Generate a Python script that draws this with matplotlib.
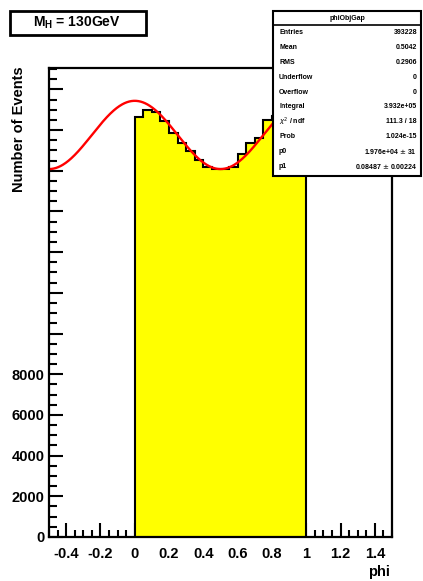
import numpy as np
import matplotlib
matplotlib.use("Agg")
import matplotlib.pyplot as plt
from matplotlib.patches import Rectangle
from matplotlib.ticker import MultipleLocator, FixedLocator, FuncFormatter

# Histogram contents: 20 bins of width 0.05 over [0, 1]
bin_edges = np.linspace(0.0, 1.0, 21)
counts = [20620, 20980, 20870, 20450, 19850, 19350, 18950, 18550, 18200, 18070,
          18070, 18170, 18800, 19380, 19590, 20490, 20700, 21000, 21100, 20800]

# Fit result: p0 * (1 + p1 * cos(2*pi*phi))
fit_p0 = 1.976e4
fit_p1 = 0.08487

stat_names = ["Entries", "Mean", "RMS", "Underflow", "Overflow", "Integral",
              r"$\chi^2$ / ndf", "Prob", "p0", "p1"]
stat_values = ["393228", "0.5042", "0.2906", "0", "0", "3.932e+05",
               "111.3 / 18", "1.024e-15", "1.976e+04 $\\pm$ 31",
               "0.08487 $\\pm$ 0.00224"]

W, H = 423, 581
fig = plt.figure(figsize=(W / 100, H / 100), dpi=100)
fig.patch.set_facecolor("white")

font = "Liberation Sans"

ax = fig.add_axes([49 / W, 1 - 537 / H, (392 - 49) / W, (537 - 68) / H])
ax.set_xlim(-0.5, 1.5)
ax.set_ylim(0, 23050)

ax.stairs(counts, bin_edges, baseline=0, fill=True, facecolor="#ffff00",
          edgecolor="none", zorder=2)
ax.stairs(counts, bin_edges, baseline=0, fill=False, edgecolor="black",
          linewidth=1.5, zorder=3)

phi = np.linspace(-0.5, 1.5, 600)
ax.plot(phi, fit_p0 * (1 + fit_p1 * np.cos(2 * np.pi * phi)),
        color="#ff0000", linewidth=1.7, zorder=4)

for s in ax.spines.values():
    s.set_linewidth(1.6)
    s.set_zorder(5)

ax.xaxis.set_major_locator(FixedLocator(np.round(np.arange(-0.4, 1.41, 0.2), 2)))
ax.xaxis.set_minor_locator(MultipleLocator(0.05))
ax.xaxis.set_major_formatter(FuncFormatter(lambda v, p: f"{v:g}"))
ax.yaxis.set_major_locator(MultipleLocator(2000))
ax.yaxis.set_minor_locator(MultipleLocator(500))
ax.yaxis.set_major_formatter(FuncFormatter(lambda v, p: f"{int(round(v))}" if v <= 8000 else ""))

ax.tick_params(axis="both", which="both", direction="in", top=False, right=False,
               width=1.5, color="black")
ax.tick_params(axis="x", which="major", length=10, pad=7)
ax.tick_params(axis="x", which="minor", length=5)
ax.tick_params(axis="y", which="major", length=10, pad=3)
ax.tick_params(axis="y", which="minor", length=6)
for lab in ax.get_xticklabels() + ax.get_yticklabels():
    lab.set_fontfamily(font)
    lab.set_fontweight("bold")
    lab.set_fontsize(10.5)

fig.text(390 / W, 1 - 572 / H, "phi", ha="right", va="center",
         fontfamily=font, fontweight="bold", fontsize=10.5)
fig.text(19 / W, 1 - 129 / H, "Number of Events", rotation=90, ha="center",
         va="center", fontfamily=font, fontweight="bold", fontsize=10.5)

# Title pave
fig.add_artist(Rectangle((10 / W, 1 - 35 / H), 136 / W, 24 / H,
                         transform=fig.transFigure, facecolor="white",
                         edgecolor="black", linewidth=2.0, zorder=10))
fig.text(77 / W, 1 - 23 / H, r"M$_{\mathregular{H}}$ = 130GeV", ha="center",
         va="center", fontfamily=font, fontweight="bold", fontsize=10, zorder=11)

# Statistics box
bx0, by0, bx1, by1 = 273, 11, 421, 176
fig.add_artist(Rectangle((bx0 / W, 1 - by1 / H), (bx1 - bx0) / W, (by1 - by0) / H,
                         transform=fig.transFigure, facecolor="white",
                         edgecolor="black", linewidth=1.5, zorder=10))
fig.add_artist(plt.Line2D([bx0 / W, bx1 / W], [1 - 25 / H, 1 - 25 / H],
                          transform=fig.transFigure, color="black",
                          linewidth=1.2, zorder=11))
fig.text((bx0 + bx1) / 2 / W, 1 - 18 / H, "phiObjGap", ha="center", va="center",
         fontfamily=font, fontweight="bold", fontsize=5, zorder=11)
for i, (name, val) in enumerate(zip(stat_names, stat_values)):
    yy = 1 - (33 + i * 14.8) / H
    fig.text(279 / W, yy, name, ha="left", va="center", fontfamily=font,
             fontweight="bold", fontsize=5, zorder=11)
    fig.text(417 / W, yy, val, ha="right", va="center", fontfamily=font,
             fontweight="bold", fontsize=5, zorder=11)

fig.savefig("out.png", dpi=100)
